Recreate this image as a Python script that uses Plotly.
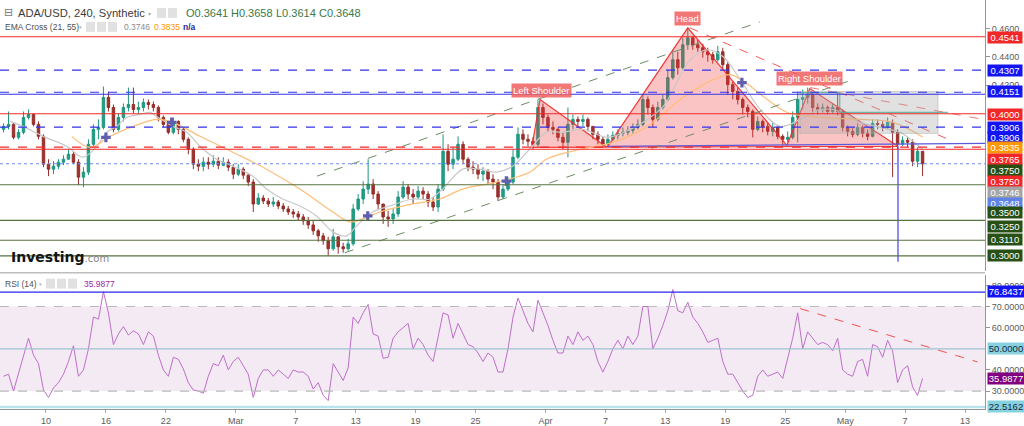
import plotly.graph_objects as go
import pandas as pd

# ---------------- data ----------------
CANDLE_START = "2023-02-05 18:00"   # centre of first 12h candle
FIRST_OPEN = 0.3890
CLOSE = [
    .3911, .3925, .3834, .3869, .3974, .3995, .3925, .3841, .3645, .3610,
    .3631, .3659, .3680, .3715, .3659, .3554, .3589, .3785, .3890, .3904,
    .4114, .4044, .3890, .3974, .4044, .4065, .4030, .4044, .4079, .4065,
    .4044, .3974, .3925, .3869, .3946, .3890, .3820, .3750, .3645, .3631,
    .3659, .3645, .3666, .3638, .3659, .3624, .3575, .3610, .3568, .3519,
    .3365, .3407, .3386, .3365, .3379, .3351, .3330, .3309, .3295, .3274,
    .3246, .3218, .3176, .3141, .3106, .3050, .3134, .3064, .3050, .3085,
    .3330, .3400, .3470, .3505, .3435, .3365, .3274, .3260, .3295, .3414,
    .3484, .3435, .3414, .3456, .3435, .3379, .3344, .3470, .3736, .3645,
    .3680, .3785, .3680, .3624, .3610, .3575, .3596, .3540, .3519, .3414,
    .3470, .3519, .3694, .3855, .3820, .3806, .3785, .4044, .3974, .3904,
    .3890, .3834, .3799, .3925, .3960, .3946, .3960, .3911, .3855, .3820,
    .3785, .3820, .3848, .3862, .3869, .3883, .3904, .3925, .4100, .4044,
    .3960, .4044, .4100, .4254, .4380, .4324, .4485, .4534, .4485, .4464,
    .4436, .4415, .4380, .4436, .4345, .4205, .4156, .4100, .4044, .4016,
    .3890, .3946, .3911, .3876, .3904, .3841, .3820, .3834, .3974, .4100,
    .4114, .4135, .4044, .4030, .4044, .4016, .4044, .4016, .3904, .3876,
    .3855, .3904, .3862, .3841, .3932, .3925, .3904, .3939, .3869, .3785,
    .3813, .3799, .3666, .3736, .3648,
]
HIGH = [
    .3932, .4016, .3939, .3890, .4016, .4030, .4002, .3946, .3855, .3680,
    .3666, .3680, .3708, .3750, .3736, .3680, .3624, .3820, .3925, .3960,
    .4191, .4156, .4065, .4002, .4072, .4184, .4184, .4086, .4107, .4100,
    .4086, .4058, .3988, .3946, .3974, .3953, .3904, .3834, .3764, .3680,
    .3694, .3694, .3708, .3694, .3694, .3680, .3645, .3645, .3624, .3582,
    .3540, .3442, .3428, .3407, .3414, .3393, .3372, .3351, .3330, .3316,
    .3295, .3274, .3246, .3190, .3162, .3134, .3190, .3134, .3092, .3120,
    .3365, .3435, .3526, .3680, .3540, .3456, .3365, .3316, .3330, .3456,
    .3526, .3505, .3470, .3491, .3484, .3456, .3414, .3505, .3855, .3785,
    .3764, .3841, .3806, .3694, .3666, .3645, .3624, .3610, .3575, .3540,
    .3505, .3554, .3750, .3904, .3890, .3855, .3834, .4100, .4072, .3995,
    .3946, .3904, .3869, .4044, .3995, .3981, .3995, .3974, .3911, .3876,
    .3841, .3855, .3876, .3890, .3904, .3911, .3932, .3960, .4135, .4121,
    .4065, .4086, .4135, .4310, .4450, .4436, .4534, .4604, .4548, .4520,
    .4492, .4464, .4436, .4478, .4464, .4366, .4226, .4184, .4114, .4065,
    .4030, .3981, .3960, .3939, .3939, .3911, .3855, .3876, .4016, .4156,
    .4170, .4184, .4135, .4072, .4072, .4058, .4072, .4149, .4030, .3918,
    .3904, .3932, .3918, .3890, .3960, .3960, .3946, .3974, .3960, .3890,
    .3841, .3834, .3820, .3764, .3736,
]
LOW = [
    .3869, .3890, .3820, .3820, .3855, .3960, .3911, .3820, .3624, .3561,
    .3575, .3610, .3638, .3680, .3645, .3498, .3484, .3568, .3771, .3820,
    .3890, .4016, .3869, .3876, .3946, .4016, .4002, .4002, .4016, .4030,
    .4016, .3946, .3904, .3855, .3855, .3855, .3799, .3715, .3610, .3596,
    .3596, .3610, .3624, .3610, .3631, .3596, .3540, .3561, .3540, .3491,
    .3309, .3358, .3365, .3344, .3344, .3330, .3309, .3288, .3267, .3246,
    .3218, .3190, .3148, .3099, .3078, .3001, .3036, .3015, .3022, .3036,
    .3071, .3316, .3365, .3435, .3400, .3330, .3225, .3204, .3225, .3274,
    .3400, .3400, .3365, .3400, .3400, .3344, .3316, .3309, .3456, .3596,
    .3610, .3666, .3645, .3596, .3575, .3540, .3526, .3505, .3470, .3386,
    .3400, .3456, .3505, .3680, .3785, .3771, .3750, .3764, .3925, .3876,
    .3855, .3806, .3750, .3694, .3890, .3904, .3911, .3876, .3820, .3785,
    .3764, .3771, .3806, .3820, .3841, .3848, .3862, .3890, .3911, .3995,
    .3904, .3946, .4030, .4086, .4240, .4275, .4310, .4450, .4450, .4436,
    .4394, .4366, .4352, .4366, .4310, .4135, .4100, .4065, .3995, .3974,
    .3834, .3876, .3869, .3848, .3841, .3820, .3778, .3799, .3820, .3799,
    .4030, .4072, .3995, .3995, .4009, .3995, .4002, .3988, .3876, .3841,
    .3834, .3841, .3834, .3813, .3834, .3890, .3876, .3890, .3554, .3750,
    .3771, .3764, .3631, .3624, .3561,
]
RSI = [
    37, 38, 30, 38.5, 47, 55, 47, 43, 30.5, 27,
    31.5, 34, 38, 44, 51.5, 37, 40, 50, 65, 64,
    77, 67, 52, 57, 60.5, 56.5, 58.5, 57, 52, 58,
    56, 47, 40, 37, 46, 45, 40.5, 34, 30.5, 30,
    29, 37, 43, 42, 47, 40, 44, 46, 42, 38,
    27, 36, 40, 40, 37, 40, 38, 36, 40, 39,
    39, 37, 31, 34, 28, 25.5, 43, 39, 35, 41,
    65, 62, 67, 71, 57, 56, 45.5, 46, 55, 58,
    60, 62, 50, 55, 52, 47, 44, 56, 67, 66,
    55, 62, 57, 52, 51, 48, 44, 48, 46, 39,
    39, 50, 65, 74, 68, 62, 58, 73, 67, 61,
    54, 48, 48, 56, 52, 58, 54, 56, 52, 44,
    39, 44, 50, 54, 50, 56, 52, 56, 70, 70,
    50, 55, 61, 68, 78, 68, 67, 72, 65, 62,
    58, 53, 54, 55, 44, 38, 38, 34, 30, 27,
    28, 37, 40, 37, 38, 39, 36, 45, 55, 67,
    50, 58, 55, 52, 53, 52, 49, 55, 40, 38,
    37, 44, 45, 37, 52, 51, 46, 54, 49, 34,
    40, 42, 32, 28, 36,
]
EMA21_DATES = [
    "2023-02-06 10:00", "2023-02-07 22:00", "2023-02-09 17:00", "2023-02-12 02:00",
    "2023-02-13 17:00", "2023-02-15 02:00", "2023-02-16 02:00", "2023-02-17 02:00",
    "2023-02-18 02:00", "2023-02-19 10:00", "2023-02-20 10:00", "2023-02-21 02:00",
    "2023-02-22 17:00", "2023-02-24 02:00", "2023-02-25 10:00", "2023-02-27 02:00",
    "2023-02-28 17:00", "2023-03-02 17:00", "2023-03-04 02:00", "2023-03-05 17:00",
    "2023-03-07 10:00", "2023-03-09 02:00", "2023-03-10 17:00", "2023-03-12 02:00",
    "2023-03-13 02:00", "2023-03-14 17:00", "2023-03-16 10:00", "2023-03-18 17:00",
    "2023-03-20 10:00", "2023-03-21 17:00", "2023-03-23 17:00", "2023-03-25 10:00",
    "2023-03-27 02:00", "2023-03-28 17:00", "2023-03-30 10:00", "2023-04-01 02:00",
    "2023-04-02 17:00", "2023-04-04 17:00", "2023-04-07 05:00", "2023-04-09 12:00",
    "2023-04-11 05:00", "2023-04-12 19:00", "2023-04-13 19:00", "2023-04-15 12:00",
    "2023-04-17 05:00", "2023-04-18 19:00", "2023-04-20 12:00", "2023-04-22 12:00",
    "2023-04-24 12:00", "2023-04-26 12:00", "2023-04-28 12:00", "2023-04-30 12:00",
    "2023-05-02 12:00", "2023-05-04 12:00", "2023-05-06 12:00", "2023-05-07 19:00",
    "2023-05-08 19:00",
]
EMA21 = [
    .3946, .3904, .3841, .3771, .3694, .3771, .3869, .3911, .3974, .3995,
    .4009, .3981, .3911, .3869, .3771, .3680, .3631, .3561, .3470, .3400,
    .3351, .3281, .3169, .3141, .3211, .3309, .3351, .3400, .3400, .3470,
    .3610, .3610, .3589, .3631, .3750, .3869, .3869, .3890, .3834, .3890,
    .3960, .4051, .4170, .4380, .4450, .4401, .4240, .4030, .3911, .3960,
    .4030, .4016, .3939, .3904, .3869, .3806, .3746,
]
EMA55_DATES = [
    "2023-02-12 14:00", "2023-02-14 10:00", "2023-02-16 10:00", "2023-02-18 17:00",
    "2023-02-21 02:00", "2023-02-22 17:00", "2023-02-25 10:00", "2023-02-28 17:00",
    "2023-03-04 02:00", "2023-03-07 10:00", "2023-03-10 17:00", "2023-03-12 10:00",
    "2023-03-13 17:00", "2023-03-15 10:00", "2023-03-18 17:00", "2023-03-21 10:00",
    "2023-03-23 17:00", "2023-03-27 02:00", "2023-03-30 10:00", "2023-04-01 02:00",
    "2023-04-04 12:00", "2023-04-07 19:00", "2023-04-11 05:00", "2023-04-14 12:00",
    "2023-04-17 19:00", "2023-04-19 12:00", "2023-04-21 00:00", "2023-04-23 05:00",
    "2023-04-25 05:00", "2023-04-28 12:00", "2023-05-02 12:00", "2023-05-05 19:00",
    "2023-05-08 19:00",
]
EMA55 = [
    .3841, .3764, .3841, .3911, .3960, .3939, .3841, .3729, .3610, .3470,
    .3309, .3239, .3260, .3309, .3365, .3400, .3470, .3519, .3589, .3680,
    .3750, .3799, .3911, .4100, .4240, .4275, .4219, .4100, .4009, .3974,
    .3960, .3939, .3835,
]

# horizontal levels on the price panel
LEVEL_PRICES = [0.4541, 0.4307, 0.4151, 0.4137, 0.4000, 0.3906, 0.3765, 0.3750,
                0.3648, 0.3500, 0.3250, 0.3110, 0.3000]
# price-scale labels
PRICE_LABELS = ["0.4541", "0.4307", "0.4151", "0.4000", "0.3906", "0.3906", "0.3835",
                "0.3765", "0.3750", "0.3750", "0.3746", "0.3648", "0.3500", "0.3250",
                "0.3110", "0.3000"]
PRICE_TICKS = [0.42, 0.44, 0.46]
PRICE_TICK_TEXT = ["0.4200", "0.4400", "0.4600"]
RSI_TICKS = [30, 40, 60, 70, 80]
RSI_TICK_TEXT = ["30.0000", "40.0000", "60.0000", "70.0000", "80.0000"]
RSI_LABELS = ["76.8437", "50.0000", "35.9877", "22.5162"]
RSI_LEVEL_HI = 76.8437
RSI_LEVEL_LO = 22.5162

# head & shoulders outline
HS_DATES = ["2023-03-30 15:00", "2023-03-31 11:00", "2023-04-07 04:00", "2023-04-15 06:00",
            "2023-04-25 04:00", "2023-04-27 11:00", "2023-05-06 07:00"]
HS_PRICES = [0.3764, 0.4100, 0.3764, 0.4604, 0.3778, 0.4177, 0.3771]
NECK_DATES = ["2023-04-07 04:00", "2023-05-15 00:00"]
NECK_PRICES = [0.3771, 0.3792]
CH_UP_DATES = ["2023-03-09 03:00", "2023-04-22 11:00"]
CH_UP_PRICES = [0.3561, 0.4646]
CH_LO_DATES = ["2023-03-11 22:00", "2023-05-01 19:00"]
CH_LO_PRICES = [0.3022, 0.4240]
RED_TREND_DATES = ["2023-04-15 11:00", "2023-05-11 19:00"]
RED_TREND_PRICES = [0.4604, 0.3806]
RED_TREND2_DATES = ["2023-04-27 12:00", "2023-05-14 20:00"]
RED_TREND2_PRICES = [0.4184, 0.3960]
BOX_DATES = ["2023-04-26 11:00", "2023-05-10 07:00"]
BOX_PRICES = [0.3862, 0.4156]
TEAL_DATES = ["2023-04-26 11:00", "2023-04-30 11:00", "2023-04-30 11:00", "2023-05-11 07:00"]
TEAL_PRICES = [0.4149, 0.4149, 0.4009, 0.4009]
VLINE_DATES = ["2023-05-06 07:00", "2023-05-06 07:00"]
VLINE_PRICES = [0.3771, 0.2959]
CROSS_DATES = ["2023-02-16 00:00", "2023-02-22 14:00", "2023-03-14 05:00",
               "2023-03-28 02:00", "2023-04-20 16:00"]
CROSS_PRICES = [0.3834, 0.3939, 0.3281, 0.3526, 0.4219]
RSI_TREND_DATES = ["2023-04-26 12:00", "2023-05-14 06:00"]
RSI_TREND_VALUES = [69.0, 43.8]
PATTERN_LABELS = ["Head", "Left Shoulder", "Right Shoulder"]
PATTERN_LABEL_DATES = ["2023-04-15 06:00", "2023-03-31 14:00", "2023-04-27 11:00"]
PATTERN_LABEL_PRICES = [0.4667, 0.4163, 0.4247]

X_TICKS = ["2023-02-10", "2023-02-16", "2023-02-22", "2023-03-01", "2023-03-07",
           "2023-03-13", "2023-03-19", "2023-03-25", "2023-04-01", "2023-04-07",
           "2023-04-13", "2023-04-19", "2023-04-25", "2023-05-01", "2023-05-07",
           "2023-05-13"]
X_TICK_TEXT = ["10", "16", "22", "Mar", "7", "13", "19", "25", "Apr", "7", "13", "19",
               "25", "May", "7", "13"]

# ---------------- layout helpers ----------------
PLOT_R = 985.0
PLOT_B = 411.0


def px(x):
    return x / PLOT_R


def py(y):
    return (PLOT_B - y) / PLOT_B


RED = "rgb(242,40,40)"
BLUE = "rgb(50,50,235)"
GREEN = "rgb(85,115,65)"
FONT = "Liberation Sans"

times = pd.date_range(CANDLE_START, periods=len(CLOSE), freq="12h")
OPEN = [FIRST_OPEN] + CLOSE[:-1]

fig = go.Figure()

# H&S filled outline
fig.add_trace(go.Scatter(
    x=HS_DATES + [HS_DATES[0]], y=HS_PRICES + [HS_PRICES[0]], mode="lines",
    fill="toself", fillcolor="rgba(242,60,60,0.30)",
    line=dict(color="rgba(242,40,40,0.9)", width=1.2), hoverinfo="skip",
    xaxis="x", yaxis="y"))

# EMAs
fig.add_trace(go.Scatter(x=EMA21_DATES, y=EMA21, mode="lines", line_shape="spline",
                         line=dict(color="rgb(200,200,200)", width=1.2),
                         xaxis="x", yaxis="y"))
fig.add_trace(go.Scatter(x=EMA55_DATES, y=EMA55, mode="lines", line_shape="spline",
                         line=dict(color="rgb(255,190,120)", width=1.2),
                         xaxis="x", yaxis="y"))

# candles
fig.add_trace(go.Candlestick(
    x=times, open=OPEN, high=HIGH, low=LOW, close=CLOSE,
    increasing=dict(line=dict(color="rgb(30,150,128)", width=1), fillcolor="rgb(30,160,135)"),
    decreasing=dict(line=dict(color="rgb(150,45,40)", width=1), fillcolor="rgb(160,50,45)"),
    whiskerwidth=0, xaxis="x", yaxis="y"))


def line_trace(xs, ys, color, dash="solid", width=1.0, axis=("x", "y")):
    return go.Scatter(x=xs, y=ys, mode="lines", line=dict(color=color, dash=dash, width=width),
                      hoverinfo="skip", xaxis=axis[0], yaxis=axis[1])


fig.add_trace(line_trace(NECK_DATES, NECK_PRICES, "rgb(90,90,220)", width=1.3))
fig.add_trace(line_trace(CH_UP_DATES, CH_UP_PRICES, "rgb(110,140,100)", "dash"))
fig.add_trace(line_trace(CH_LO_DATES, CH_LO_PRICES, "rgb(110,140,100)", "dash"))
fig.add_trace(line_trace(RED_TREND_DATES, RED_TREND_PRICES, "rgb(245,90,90)", "dash"))
fig.add_trace(line_trace(RED_TREND2_DATES, RED_TREND2_PRICES, "rgb(245,120,120)", "dash"))
fig.add_trace(go.Scatter(
    x=[BOX_DATES[0], BOX_DATES[1], BOX_DATES[1], BOX_DATES[0], BOX_DATES[0]],
    y=[BOX_PRICES[0], BOX_PRICES[0], BOX_PRICES[1], BOX_PRICES[1], BOX_PRICES[0]],
    mode="lines", fill="toself", fillcolor="rgba(170,170,170,0.35)",
    line=dict(color="rgba(170,170,170,0.5)", width=1), xaxis="x", yaxis="y"))
fig.add_trace(line_trace(TEAL_DATES, TEAL_PRICES, "rgba(80,170,150,0.8)", width=1.2))
fig.add_trace(line_trace(VLINE_DATES, VLINE_PRICES, "rgb(80,80,235)", width=1.3))
fig.add_trace(go.Scatter(x=CROSS_DATES, y=CROSS_PRICES, mode="markers",
                         marker=dict(symbol="cross", size=8, color="rgb(95,95,175)",
                                     line=dict(width=0)),
                         xaxis="x", yaxis="y"))

# RSI
fig.add_trace(go.Scatter(x=times, y=RSI, mode="lines",
                         line=dict(color="rgb(190,110,200)", width=1),
                         xaxis="x2", yaxis="y2"))
fig.add_trace(line_trace(RSI_TREND_DATES, RSI_TREND_VALUES, "rgb(245,80,80)", "dash",
                         axis=("x2", "y2")))

shapes = []
level_styles = [(RED, "solid"), (BLUE, "dash"), (BLUE, "dash"), (BLUE, "solid"),
                (RED, "solid"), (BLUE, "dash"), (RED, "dash"), (RED, "solid"),
                ("rgb(110,140,240)", "dot"), (GREEN, "solid"), (GREEN, "solid"),
                (GREEN, "solid"), (GREEN, "solid")]
for p, (c, d) in zip(LEVEL_PRICES, level_styles):
    shapes.append(dict(type="line", xref="paper", yref="y", x0=0, x1=1, y0=p, y1=p,
                       line=dict(color=c, width=1.1, dash=d), layer="above"))

# RSI band & levels
shapes.append(dict(type="rect", xref="paper", yref="y2", x0=0, x1=1, y0=30, y1=70,
                   fillcolor="rgba(150,60,150,0.11)", line=dict(width=0), layer="below"))
for v in (30, 70):
    shapes.append(dict(type="line", xref="paper", yref="y2", x0=0, x1=1, y0=v, y1=v,
                       line=dict(color="rgb(185,185,185)", width=1.2, dash="dash")))
shapes.append(dict(type="line", xref="paper", yref="y2", x0=0, x1=1, y0=50, y1=50,
                   line=dict(color="rgb(160,195,210)", width=1.2)))
shapes.append(dict(type="line", xref="paper", yref="y2", x0=0, x1=1,
                   y0=RSI_LEVEL_HI, y1=RSI_LEVEL_HI, line=dict(color="rgb(40,40,240)", width=1.2)))
shapes.append(dict(type="line", xref="paper", yref="y2", x0=0, x1=1,
                   y0=RSI_LEVEL_LO, y1=RSI_LEVEL_LO, line=dict(color="rgb(185,228,238)", width=2.5)))
# panel separator
shapes.append(dict(type="line", xref="paper", yref="paper", x0=0, x1=1, y0=py(274), y1=py(274),
                   line=dict(color="rgb(190,190,190)", width=1.5)))

annotations = []
label_colors = [RED, "rgb(20,20,240)", "rgb(20,20,240)", RED, "rgb(20,20,240)",
                "rgb(20,20,240)", "rgb(255,152,0)", RED, "rgb(40,80,20)", RED,
                "rgb(165,165,165)", "rgb(95,130,230)", "rgb(40,80,20)", "rgb(40,80,20)",
                "rgb(40,80,20)", "rgb(40,80,20)"]
label_y = [38, 71, 92, 115, 128, 138, 148, 160, 171, 182, 193, 204, 214, 228, 241, 257]
for t, c, yy in zip(PRICE_LABELS, label_colors, label_y):
    annotations.append(dict(xref="paper", yref="paper", x=1 + 2 / PLOT_R, y=py(yy),
                            xanchor="left", yanchor="middle", text=t, showarrow=False,
                            bgcolor=c, width=34, height=11, borderpad=0,
                            font=dict(family=FONT, size=9.5, color="white")))
rsi_label_y = [293, 350.5, 380, 408]
rsi_bg = ["rgb(20,20,240)", "rgb(135,210,222)", "rgb(128,0,128)", "rgb(135,210,222)"]
rsi_fg = ["white", "rgb(20,40,60)", "white", "rgb(20,40,60)"]
for t, c, f, yy in zip(RSI_LABELS, rsi_bg, rsi_fg, rsi_label_y):
    annotations.append(dict(xref="paper", yref="paper", x=1 + 2 / PLOT_R, y=py(yy),
                            xanchor="left", yanchor="middle", text=t, showarrow=False,
                            bgcolor=c, width=36, height=11, borderpad=0,
                            font=dict(family=FONT, size=9.5, color=f)))

for t, d, p in zip(PATTERN_LABELS, PATTERN_LABEL_DATES, PATTERN_LABEL_PRICES):
    annotations.append(dict(xref="x", yref="y", x=d, y=p, text=t, showarrow=False,
                            bgcolor="rgba(240,95,95,0.85)", borderpad=1,
                            font=dict(family=FONT, size=9.5, color="white")))


def txt(x, y, t, size, color, bold=False, family=FONT):
    if bold:
        t = "<b>" + t + "</b>"
    annotations.append(dict(xref="paper", yref="paper", x=px(x), y=py(y), xanchor="left",
                            yanchor="middle", text=t, showarrow=False, borderpad=0,
                            font=dict(family=family, size=size, color=color)))


txt(3, 13, "⊟", 11, "rgb(120,120,120)", family="DejaVu Sans")
txt(17, 13, "ADA/USD, 240, Synthetic", 11.2, "rgb(60,60,60)")
txt(147, 14, "▾", 6, "rgb(170,170,170)", family="DejaVu Sans")
txt(185, 13, "O0.3641", 11, "rgb(60,120,70)")
txt(230, 13, "H0.3658", 11, "rgb(60,120,70)")
txt(275, 13, "L0.3614", 11, "rgb(60,120,70)")
txt(318, 13, "C0.3648", 11, "rgb(60,120,70)")
txt(4, 27, "EMA Cross (21, 55)", 8.5, "rgb(80,80,80)")
txt(78, 27, "▾", 5, "rgb(170,170,170)", family="DejaVu Sans")
txt(123, 27, "0.3746", 8.5, "rgb(140,140,140)")
txt(153, 27, "0.3835", 8.5, "rgb(255,150,0)")
txt(182, 27, "n/a", 8.5, "rgb(40,40,150)", bold=True)
txt(4, 285, "RSI (14)", 8.5, "rgb(80,80,80)")
txt(38, 285, "▾", 5, "rgb(170,170,170)", family="DejaVu Sans")
txt(83, 285, "35.9877", 8.5, "rgb(150,40,160)")
annotations.append(dict(xref="paper", yref="paper", x=px(9), y=py(258), xanchor="left",
                        yanchor="middle", showarrow=False,
                        text="<b>Investing</b><span style='font-size:10px;color:#888'>.com</span>",
                        font=dict(family="DejaVu Sans", size=14, color="rgb(20,20,20)")))
# header icon boxes
for (x0, y0) in [(157, 8), (168, 8), (86, 22), (97, 22), (108, 22), (46, 280), (57, 280), (68, 280)]:
    shapes.append(dict(type="rect", xref="paper", yref="paper", x0=px(x0), x1=px(x0 + 9),
                       y0=py(y0 + 10), y1=py(y0), fillcolor="rgb(225,225,225)",
                       line=dict(width=0)))

fig.update_layout(
    width=1024, height=426, margin=dict(l=0, r=39, t=0, b=15),
    paper_bgcolor="white", plot_bgcolor="white", showlegend=False,
    font=dict(family=FONT, size=9, color="rgb(90,90,90)"),
    xaxis=dict(domain=[0, 1], anchor="y", range=["2023-02-05 09:30", "2023-05-15 00:00"],
               showticklabels=False, showgrid=False, zeroline=False,
               rangeslider=dict(visible=False), matches="x2"),
    xaxis2=dict(domain=[0, 1], anchor="y2", range=["2023-02-05 09:30", "2023-05-15 00:00"],
                tickvals=X_TICKS, ticktext=X_TICK_TEXT, showgrid=False, zeroline=False,
                showline=True, linecolor="rgb(150,150,150)", ticks="outside", ticklen=3,
                tickcolor="rgb(170,170,170)", tickfont=dict(size=9, color="rgb(90,90,90)"),
                rangeslider=dict(visible=False)),
    yaxis=dict(domain=[py(272), 1], anchor="x", side="right", range=[0.2896, 0.48],
               tickvals=PRICE_TICKS, ticktext=PRICE_TICK_TEXT,
               showgrid=False, zeroline=False, showline=True, linecolor="rgb(150,150,150)",
               ticks="outside", ticklen=4, tickcolor="rgb(150,150,150)",
               tickfont=dict(size=9, color="rgb(90,90,90)")),
    yaxis2=dict(domain=[0, py(276)], anchor="x2", side="right", range=[21.53, 85.06],
                tickvals=RSI_TICKS, ticktext=RSI_TICK_TEXT,
                showgrid=False, zeroline=False, showline=True, linecolor="rgb(150,150,150)",
                ticks="outside", ticklen=4, tickcolor="rgb(150,150,150)",
                tickfont=dict(size=9, color="rgb(90,90,90)")),
    shapes=shapes, annotations=annotations,
)

fig.write_html("out.html")
